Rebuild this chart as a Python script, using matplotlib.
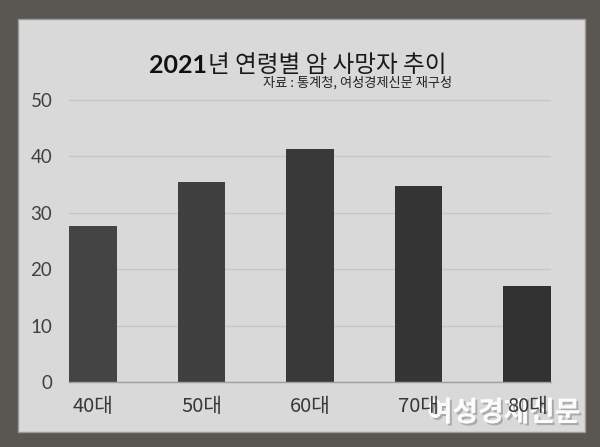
import matplotlib
matplotlib.use("Agg")
import matplotlib.pyplot as plt
import matplotlib.patheffects as pe
from matplotlib.patches import Rectangle

plt.rcParams['font.family'] = ['Noto Sans CJK KR', 'DejaVu Sans']

# data
ages = ["40대", "50대", "60대", "70대", "80대"]
deaths = [27.7, 35.4, 41.3, 34.7, 17.0]
y_ticks = [0, 10, 20, 30, 40, 50]

bar_colors = ["#444444", "#404040", "#393939", "#353535", "#313131"]

W, H = 600, 447
fig = plt.figure(figsize=(W / 100, H / 100), dpi=100)
fig.patch.set_facecolor("#5a5652")

# light panel behind everything
panel = Rectangle((18 / W, 1 - 432 / H), (585 - 18) / W, (432 - 19) / H,
                  transform=fig.transFigure, facecolor="#d9d9d9",
                  edgecolor="#9a9a9a", linewidth=1, zorder=-5)
fig.patches.append(panel)

# axes placement (px -> figure fraction)
left, right = 69, 551
y0_px, unit = 382, 5.64
ymax = 50.6
top_px = y0_px - ymax * unit
ax = fig.add_axes([left / W, 1 - y0_px / H, (right - left) / W, (y0_px - top_px) / H])
ax.set_facecolor("none")

w = 0.44
x = list(range(len(ages)))
ax.bar(x, deaths, width=w, color=bar_colors, zorder=3)
ax.set_xlim(-w / 2, len(ages) - 1 + w / 2)
ax.set_ylim(0, ymax)

ax.set_yticks(y_ticks)
ax.set_yticklabels([str(t) for t in y_ticks], fontfamily=['Lato', 'DejaVu Sans'],
                   fontsize=13.5, color="#404040")
ax.set_xticks(x)
ax.set_xticklabels(ages, fontsize=14.5, color="#383838", fontweight="medium")
ax.tick_params(axis='y', length=0, pad=12)
ax.tick_params(axis='x', length=0, pad=10)
ax.yaxis.grid(True, color="#c6c6c6", linewidth=1, zorder=0)
for s in ["top", "right", "left"]:
    ax.spines[s].set_visible(False)
ax.spines["bottom"].set_color("#a0a0a0")
ax.spines["bottom"].set_linewidth(1)
ax.spines["bottom"].set_zorder(4)

# title: bold year + regular rest
t1 = fig.text(149 / W, 1 - 73 / H, "2021", fontsize=18, fontweight="bold",
              color="#111111", fontfamily=['Lato', 'DejaVu Sans'], va="baseline")
ax.annotate("년 연령별 암 사망자 추이", xy=(1, 0), xycoords=t1,
            xytext=(1, 0), textcoords="offset points",
            fontsize=17, color="#1a1a1a", va="bottom", ha="left",
            annotation_clip=False)

fig.text(452 / W, 1 - 83 / H, "자료 : 통계청, 여성경제신문 재구성", fontsize=9.5,
         color="#222222", ha="right", va="center")

# watermark with soft shadow, under the tick labels
fig.text(580 / W, 1 - 413 / H, "여성경제신문", fontsize=20, fontweight="bold",
         color="white", alpha=0.8, ha="right", va="center", zorder=-1,
         path_effects=[pe.withSimplePatchShadow(offset=(1.5, -1.5),
                                                shadow_rgbFace="#555555", alpha=0.35),
                       pe.Normal()])

fig.savefig("out.png", dpi=100, facecolor=fig.get_facecolor())
